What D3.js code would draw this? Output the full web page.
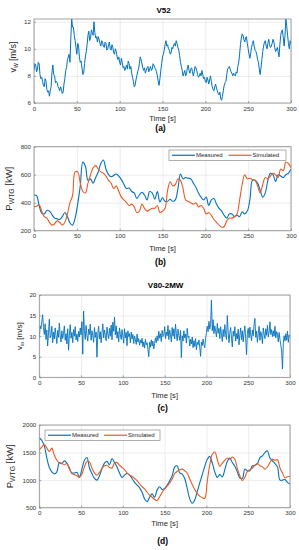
<!DOCTYPE html>
<html><head><meta charset="utf-8">
<script src="https://cdn.jsdelivr.net/npm/d3@7/dist/d3.min.js"></script>
<style>
body{margin:0;background:#fff}
svg{display:block}
text{font-family:"Liberation Sans",Arial,Helvetica,sans-serif}
</style>
</head><body>
<svg id="chart" width="299" height="550"></svg>
<script>
// ---------- DATA ----------
const timeTicks = [0, 50, 100, 150, 200, 250, 300];
const speedTicksV52 = [6, 8, 10, 12];
const powerTicksV52 = [200, 400, 600, 800];
const speedTicksV80 = [0, 5, 10, 15, 20];
const powerTicksV80 = [500, 1000, 1500, 2000];
const seriesNames = ["Measured", "Simulated"];
const titles = ["V52", "V80-2MW"];
const panelLabels = ["(a)", "(b)", "(c)", "(d)"];

// V52 wind speed [m/s], every 1 s
const v52Speed = [
 8.4,8.9,8.8,8.3,8.5,9.0,8.9,8.1,7.8,7.9,
 7.6,7.3,7.2,7.8,7.6,7.0,6.8,6.9,6.5,6.9,
 7.2,8.3,8.8,8.1,8.0,7.5,7.6,7.5,7.2,7.1,
 6.9,7.2,7.0,6.7,6.8,7.4,7.8,8.4,8.6,9.2,
 9.4,9.6,9.0,10.8,12.2,11.6,11.6,11.0,10.6,10.1,
 9.6,10.4,10.2,9.4,9.0,9.1,8.6,8.1,8.2,8.9,
 9.4,9.8,10.3,11.0,11.3,10.6,10.8,11.4,11.2,11.0,
 12.0,11.2,10.8,10.9,10.5,10.9,10.7,10.4,10.2,10.6,
 10.5,10.2,10.1,10.5,10.4,9.9,10.0,10.3,10.5,10.0,
 9.9,10.3,10.1,9.7,9.6,10.0,9.8,9.4,9.2,9.4,
 9.0,8.8,9.3,9.0,8.6,8.7,8.4,8.6,8.8,8.5,
 9.1,8.9,8.5,8.7,8.2,7.9,7.6,7.2,7.3,7.7,
 8.0,8.3,8.5,8.9,9.4,9.2,8.9,8.6,8.4,8.6,
 8.2,8.4,8.6,8.7,8.3,8.5,8.7,8.4,8.5,8.9,
 8.8,8.6,8.5,8.3,8.0,7.6,7.3,7.8,8.4,8.9,
 9.4,9.6,9.9,10.3,10.6,10.2,10.3,10.0,9.9,9.6,
 9.7,10.1,10.0,10.3,10.4,10.2,10.6,10.4,10.1,9.9,
 9.5,9.0,8.7,8.4,8.0,8.2,8.4,8.0,8.1,8.6,
 8.8,8.4,8.2,8.5,8.6,8.3,8.0,8.3,8.7,8.6,
 8.4,8.1,7.9,8.0,8.2,8.0,8.4,8.1,7.8,7.9,
 7.6,7.5,7.9,7.7,7.4,7.7,8.0,7.6,7.2,7.0,
 6.9,7.2,7.4,7.1,6.9,6.7,6.6,6.8,6.3,6.2,
 6.5,6.9,7.3,7.5,7.6,8.1,8.5,8.6,8.7,8.5,
 8.3,8.2,8.0,8.2,8.1,8.0,8.3,8.2,8.7,9.0,
 9.6,10.3,10.8,11.1,11.0,10.7,10.5,10.8,10.9,10.4,
 10.0,9.6,9.3,9.7,10.1,10.4,10.6,10.2,9.9,9.8,
 9.6,9.2,9.0,8.5,8.1,8.6,9.2,9.8,10.2,10.5,
 10.6,10.2,10.0,10.4,10.7,10.3,10.1,10.2,10.4,10.7,
 10.5,10.1,9.8,9.9,10.1,9.8,9.4,10.3,11.0,11.3,
 11.4,10.8,10.2,11.0,12.2,11.7,11.0,10.4,10.0,10.6,
 10.3
];

// V52 power [kW], every 3 s
const v52Measured = [
 455,450,380,325,320,345,340,315,290,285,
 280,300,330,300,255,240,290,390,520,690,
 660,560,570,540,580,620,680,705,640,600,
 585,595,605,590,565,530,500,505,480,470,
 430,455,475,455,420,480,470,425,480,405,
 435,410,410,425,410,420,500,605,570,580,
 575,570,540,510,470,440,420,440,380,420,
 430,390,360,340,310,290,320,320,300,310,
 300,335,320,340,420,560,560,540,490,440,
 470,560,610,600,550,600,590,580,600,610,
 640
];
const v52Simulated = [
 371,375,385,340,300,290,260,240,250,270,
 260,240,260,320,400,450,620,620,540,480,
 470,540,600,650,665,640,620,610,590,560,
 540,500,520,480,440,420,400,380,390,370,
 330,340,390,360,340,350,360,360,380,330,
 340,360,490,550,520,530,570,560,500,420,
 410,400,390,400,370,380,360,320,330,310,
 280,260,240,225,230,270,290,290,300,320,
 420,530,600,570,575,565,560,520,470,530,
 580,570,590,610,600,580,640,630,690,680,
 650
];

// V80-2MW wind speed [m/s], every 1 s
const v80Speed = [
 9.5,12.5,11.8,13.6,15.2,12.1,10.4,13.0,9.2,11.5,
 7.6,10.8,14.1,9.6,10.2,12.4,8.4,11.0,9.3,12.0,
 10.1,8.2,11.4,9.7,13.2,10.0,8.6,11.3,9.4,10.7,
 12.5,9.0,10.6,8.1,11.8,6.6,10.2,12.8,9.5,10.9,
 8.4,11.6,10.0,12.3,9.1,10.5,8.7,11.2,9.8,12.0,
 10.3,13.5,5.6,16.1,11.4,9.2,12.6,10.1,8.8,11.7,
 10.4,12.9,9.0,11.3,10.2,8.5,12.1,9.7,11.0,4.9,
 10.6,12.4,9.3,11.1,8.4,10.8,13.0,9.6,11.5,10.2,
 8.9,12.2,10.5,9.4,11.9,10.0,12.7,9.1,13.4,11.2,
 14.6,10.3,12.5,9.5,11.1,8.6,12.0,10.4,9.2,11.6,
 10.0,8.3,11.8,9.6,10.9,7.7,11.3,9.9,10.6,8.4,
 11.0,9.3,10.4,8.2,10.0,9.1,8.0,10.5,8.6,9.4,
 7.8,9.0,8.3,9.5,7.4,8.6,7.1,9.2,7.9,8.4,
 6.8,5.0,8.5,7.3,9.1,7.6,8.8,6.9,8.2,9.6,
 8.4,10.1,8.9,11.2,9.5,10.6,8.7,11.4,9.9,10.2,
 12.3,9.4,11.0,10.1,12.6,9.2,11.5,10.4,8.6,12.1,
 10.0,11.8,9.3,12.9,10.6,8.9,11.7,10.2,9.0,11.4,
 4.8,10.1,8.8,11.3,9.6,10.5,8.3,11.9,9.7,10.0,
 7.6,9.2,8.1,9.8,7.2,8.9,7.5,9.4,6.7,8.5,
 7.9,9.1,7.3,5.1,8.6,7.7,9.3,8.0,7.2,9.5,
 10.8,12.4,11.1,13.6,11.7,12.9,18.8,11.3,14.0,10.6,
 12.5,11.2,9.8,13.1,10.7,11.9,9.4,12.3,10.5,8.7,
 11.6,9.9,12.8,10.4,9.2,15.0,11.0,8.4,10.9,12.1,
 9.5,7.4,11.2,10.0,12.3,8.8,10.6,9.3,11.7,7.9,
 10.4,12.0,9.1,11.3,8.6,10.8,12.5,9.4,5.5,10.7,
 11.9,9.6,12.2,10.3,8.9,11.5,10.1,12.8,14.3,9.7,
 11.2,8.5,10.6,12.4,9.0,11.1,10.3,8.2,12.0,10.5,
 9.4,11.8,10.2,12.6,9.8,11.0,13.5,10.4,11.6,9.9,
 11.3,10.0,12.4,9.6,11.1,10.5,8.6,10.9,9.2,7.8,
 6.4,2.0,8.3,10.1,8.8,10.6,9.0,11.2,8.5,10.3,
 9.8
];

// V80-2MW power [kW], every 3 s
const v80Measured = [
 1770,1720,1620,1400,1230,1150,1110,1150,1320,1300,
 1350,1310,1220,1130,1130,1140,1060,1200,1360,1410,
 1220,1120,1030,1000,1080,1210,1310,1340,1280,1390,
 1320,1240,1130,1050,1090,1120,1090,1030,960,910,
 860,780,660,610,690,750,690,820,880,830,
 850,910,990,1080,1240,1260,1130,1110,1030,850,
 660,580,640,790,950,1100,1250,1380,1430,1310,
 1150,1050,1100,1060,1190,1340,1400,1320,1250,1150,
 1040,1030,1200,1170,1170,1260,1270,1300,1410,1440,
 1500,1530,1400,1350,1300,1240,1000,1000,1010,960,
 930
];
const v80Simulated = [
 1550,1600,1650,1580,1520,1580,1450,1360,1310,1300,
 1280,1300,1200,1120,1100,1080,1050,1110,1240,1340,
 1330,1220,1130,1090,1140,1210,1260,1270,1230,1220,
 1310,1320,1270,1230,1190,1130,1090,1070,1030,990,
 930,880,840,780,730,690,650,630,700,780,
 840,890,950,1020,1120,1160,1190,1200,1170,1130,
 1020,920,830,760,710,680,670,980,1280,1470,
 1510,1370,1250,1310,1360,1400,1380,1420,1380,1210,
 1080,990,1050,1160,1190,1220,1270,1300,1260,1240,
 1200,1240,1320,1380,1360,1370,1220,1130,1040,1060,
 1070
];

// ---------- DRAW ----------
const svg = d3.select("#chart");
const C_BLUE = "#0072BD", C_ORANGE = "#EC5A22";
const FONT = '"Liberation Sans",Arial,Helvetica,sans-serif';

function series(vals, step) {
  const t = d3.range(0, vals.length * step, step);
  return vals.map((v, i) => [t[i], v]);
}

let clipId = 0;
function panel(cfg) {
  const g = svg.append("g");
  const x = d3.scaleLinear().domain([0, 300]).range([cfg.l, cfg.r]);
  const y = d3.scaleLinear().domain(cfg.yd).range([cfg.b, cfg.t]);
  const H = cfg.b - cfg.t, W = cfg.r - cfg.l;

  // grid
  g.append("g").attr("transform", `translate(0,${cfg.b})`)
    .call(d3.axisBottom(x).tickValues(timeTicks).tickSize(-H).tickFormat(""))
    .call(s => { s.select(".domain").remove(); s.selectAll("line").attr("stroke", "#e4e4e4").attr("stroke-width", 0.7); });
  g.append("g").attr("transform", `translate(${cfg.l},0)`)
    .call(d3.axisLeft(y).tickValues(cfg.yt).tickSize(-W).tickFormat(""))
    .call(s => { s.select(".domain").remove(); s.selectAll("line").attr("stroke", "#e4e4e4").attr("stroke-width", 0.7); });

  // lines
  const id = "clip" + (clipId++);
  g.append("clipPath").attr("id", id).append("rect")
    .attr("x", cfg.l).attr("y", cfg.t).attr("width", W).attr("height", H);
  const line = d3.line().x(d => x(d[0])).y(d => y(d[1]));
  if (cfg.smooth) line.curve(d3.curveCatmullRom.alpha(0.5));
  cfg.lines.forEach(L => {
    g.append("path").attr("clip-path", `url(#${id})`)
      .attr("d", line(L.data)).attr("fill", "none")
      .attr("stroke", L.color).attr("stroke-width", L.w).attr("stroke-linejoin", "round");
  });

  // box
  g.append("rect").attr("x", cfg.l).attr("y", cfg.t).attr("width", W).attr("height", H)
    .attr("fill", "none").attr("stroke", "#8c8c8c").attr("stroke-width", 0.8);

  // axes
  const fmt = d => String(d);
  const ax = g.append("g").attr("transform", `translate(0,${cfg.b})`)
    .call(d3.axisBottom(x).tickValues(timeTicks).tickFormat(fmt).tickSize(-2).tickPadding(4));
  const ay = g.append("g").attr("transform", `translate(${cfg.l},0)`)
    .call(d3.axisLeft(y).tickValues(cfg.yt).tickFormat(fmt).tickSize(-2).tickPadding(3));
  [ax, ay].forEach(a => {
    a.select(".domain").remove();
    a.selectAll("line").attr("stroke", "#8c8c8c").attr("stroke-width", 0.8);
    a.selectAll("text").attr("fill", "#333").attr("font-size", 6.2).attr("font-family", FONT);
  });
  ax.selectAll("text").attr("dy", "0.6em");

  // x label
  const cx = (cfg.l + cfg.r) / 2;
  g.append("text").attr("x", cx).attr("y", cfg.xlY).attr("text-anchor", "middle")
    .attr("font-size", 7.6).attr("fill", "#262626").text("Time [s]");
  // panel label
  g.append("text").attr("x", cx - 2).attr("y", cfg.plY).attr("text-anchor", "middle")
    .attr("font-size", 8.5).attr("font-weight", "bold").attr("fill", "#000").text(cfg.pl);
  // title
  if (cfg.title) {
    g.append("text").attr("x", cx + 1).attr("y", cfg.titleY).attr("text-anchor", "middle")
      .attr("font-size", 8).attr("font-weight", "bold").attr("fill", "#000").text(cfg.title);
  }
  // y label
  const yl = g.append("text")
    .attr("transform", `translate(${cfg.ylX},${(cfg.t + cfg.b) / 2 + cfg.ylDy}) rotate(-90)`)
    .attr("text-anchor", "middle").attr("font-size", cfg.ylSize).attr("fill", "#262626");
  yl.append("tspan").text(cfg.ylMain);
  yl.append("tspan").attr("dy", "0.35em").attr("font-size", cfg.ylSize * 0.72).text(cfg.ylSub);
  yl.append("tspan").attr("dy", "-0.25em").text(cfg.ylRest);

  // legend
  if (cfg.legend) {
    const Lg = cfg.legend;
    g.append("rect").attr("x", Lg.x).attr("y", Lg.y).attr("width", Lg.w).attr("height", Lg.h)
      .attr("fill", "#fff").attr("stroke", "#8c8c8c").attr("stroke-width", 0.7);
    const my = Lg.y + Lg.h / 2;
    cfg.lines.forEach((L, i) => {
      const x0 = Lg.x + 3 + i * Lg.step;
      g.append("line").attr("x1", x0).attr("x2", x0 + Lg.len).attr("y1", my).attr("y2", my)
        .attr("stroke", L.color).attr("stroke-width", 1.2);
      g.append("text").attr("x", x0 + Lg.len + 1).attr("y", my + 2.1)
        .attr("font-size", 6).attr("fill", "#262626").text(seriesNames[i]);
    });
  }
}

// (a)
panel({ l: 34, r: 291, t: 19, b: 103, yd: [6, 12.2], yt: speedTicksV52,
  lines: [{ data: series(v52Speed, 1), color: C_BLUE, w: 1 }],
  xlY: 121, plY: 130.5, pl: panelLabels[0], title: titles[0], titleY: 12.5,
  ylX: 16, ylDy: -4, ylSize: 9, ylMain: "v", ylSub: "w", ylRest: " [m/s]" });

// (b)
panel({ l: 34, r: 291, t: 146.7, b: 230.7, yd: [200, 800], yt: powerTicksV52, smooth: true,
  lines: [{ data: series(v52Measured, 3), color: C_BLUE, w: 1.1 },
          { data: series(v52Simulated, 3), color: C_ORANGE, w: 1.1 }],
  xlY: 250.5, plY: 265, pl: panelLabels[1],
  ylX: 12, ylDy: 0, ylSize: 9.5, ylMain: "P", ylSub: "WTG", ylRest: " [kW]",
  legend: { x: 169, y: 150, w: 117, h: 10.5, len: 23, step: 56.5 } });

// (c)
panel({ l: 39.3, r: 290, t: 295, b: 377.3, yd: [0, 20], yt: speedTicksV80,
  lines: [{ data: series(v80Speed, 1), color: C_BLUE, w: 0.9 }],
  xlY: 398, plY: 410.5, pl: panelLabels[2], title: titles[1], titleY: 287.5,
  ylX: 21.5, ylDy: 0, ylSize: 8, ylMain: "v", ylSub: "w", ylRest: " [m/s]" });

// (d)
panel({ l: 39.3, r: 290, t: 425, b: 507.7, yd: [500, 2000], yt: powerTicksV80, smooth: true,
  lines: [{ data: series(v80Measured, 3), color: C_BLUE, w: 1.1 },
          { data: series(v80Simulated, 3), color: C_ORANGE, w: 1.1 }],
  xlY: 526, plY: 543.5, pl: panelLabels[3],
  ylX: 13, ylDy: 0, ylSize: 9.5, ylMain: "P", ylSub: "WTG", ylRest: " [kW]",
  legend: { x: 45, y: 430, w: 115, h: 10.5, len: 23, step: 56 } });
</script>
</body></html>
